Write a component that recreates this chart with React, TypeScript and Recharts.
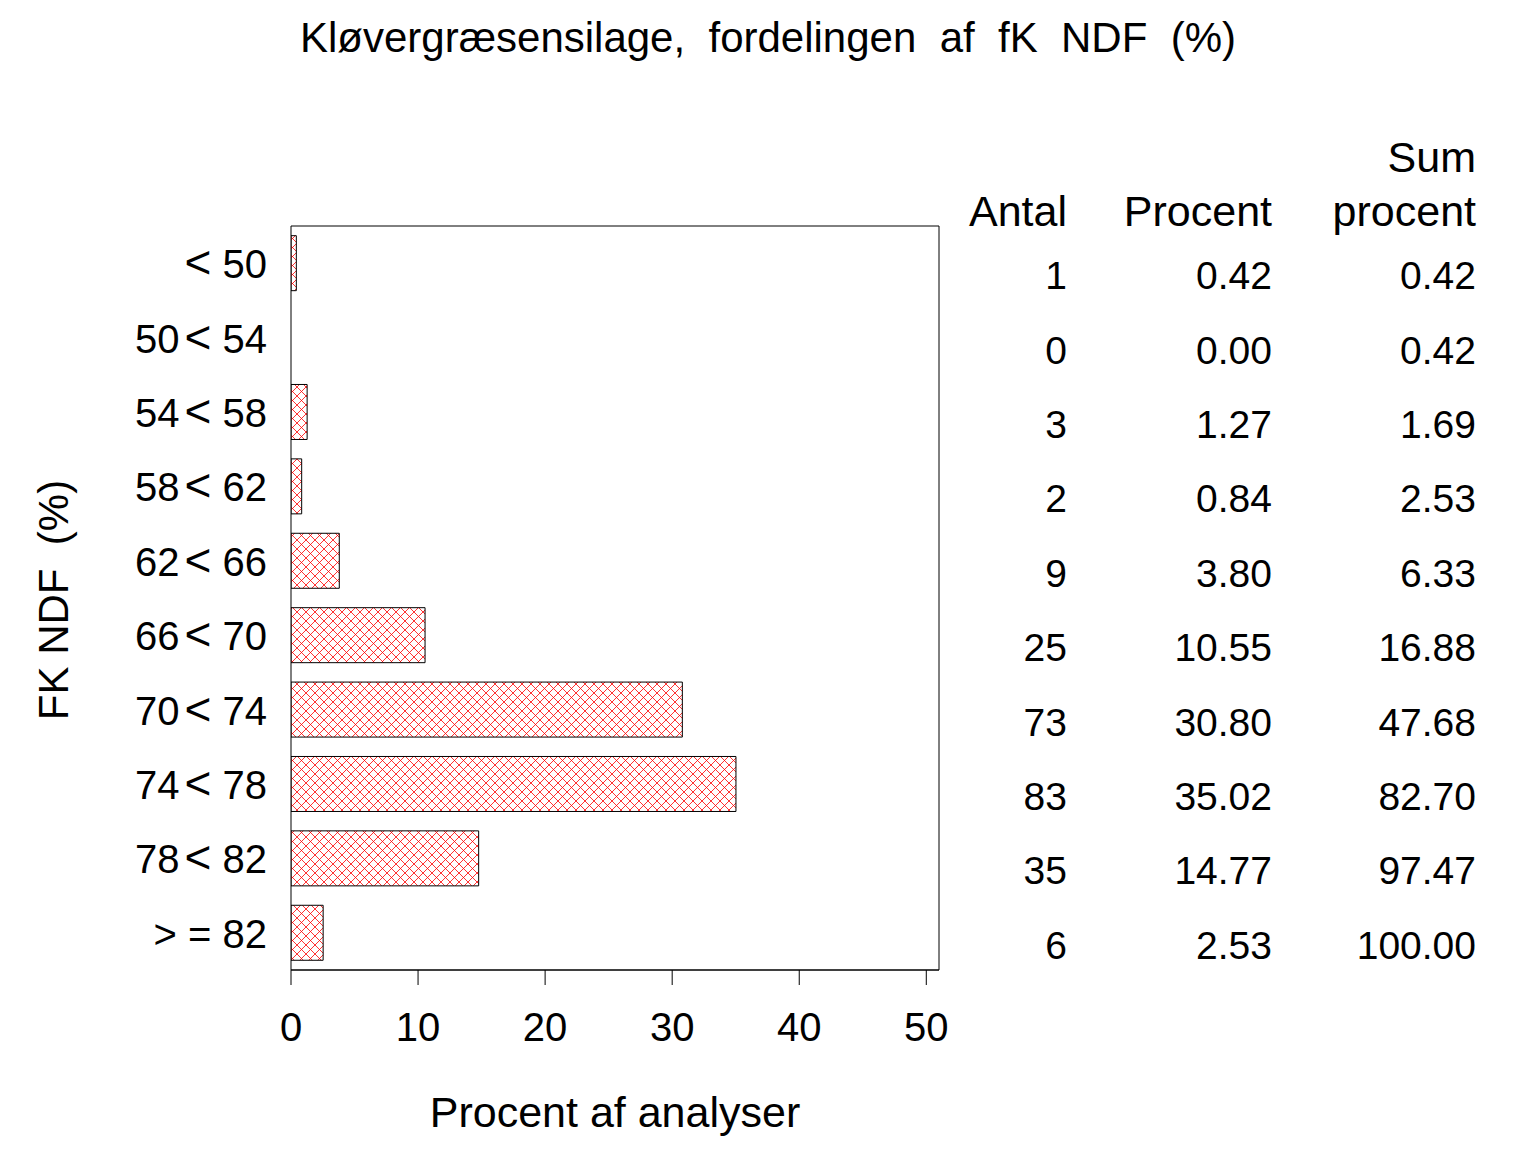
import { BarChart, Bar, XAxis, YAxis, ReferenceArea, Label } from "recharts";

const categories = ["< 50", "50< 54", "54< 58", "58< 62", "62< 66", "66< 70", "70< 74", "74< 78", "78< 82", "> = 82"];
const antal = [1, 0, 3, 2, 9, 25, 73, 83, 35, 6];
const procent = [0.42, 0.0, 1.27, 0.84, 3.8, 10.55, 30.8, 35.02, 14.77, 2.53];
const sumProcent = [0.42, 0.42, 1.69, 2.53, 6.33, 16.88, 47.68, 82.7, 97.47, 100.0];
const xTicks = [0, 10, 20, 30, 40, 50];

const data = categories.map((cat, i) => ({ cat, pct: procent[i] }));

const font = "'Liberation Sans', Arial, sans-serif";
const numFs = 39;
const wordFs = 43;

function TableTick({ x, y, payload }: any) {
  const i = categories.indexOf(payload.value);
  const base = y + 26;
  return (
    <g fontFamily={font} fill="#000">
      {i === 0 && (
        <g fontSize={wordFs}>
          <text x={x + 128} y={y - 37} textAnchor="end">Antal</text>
          <text x={x + 333} y={y - 37} textAnchor="end">Procent</text>
          <text x={x + 537} y={y - 91} textAnchor="end">Sum</text>
          <text x={x + 537} y={y - 37} textAnchor="end">procent</text>
        </g>
      )}
      <g fontSize={numFs}>
        <text x={x + 128} y={base} textAnchor="end">{antal[i]}</text>
        <text x={x + 333} y={base} textAnchor="end">{procent[i].toFixed(2)}</text>
        <text x={x + 537} y={base} textAnchor="end">{sumProcent[i].toFixed(2)}</text>
      </g>
    </g>
  );
}

// left labels: wider "<" like the original
function CatTick({ x, y, payload }: any) {
  const s: string = payload.value;
  const k = s.indexOf("<");
  const before = k >= 0 ? s.slice(0, k) : s;
  const after = k >= 0 ? s.slice(k + 1) : "";
  return (
    <text x={x} y={y} dy={15} textAnchor="end" fontFamily={font} fontSize={40} fill="#000" style={{ whiteSpace: "pre" }}>
      {k >= 0 ? (
        <>
          {before}
          <tspan dx={before ? 5 : 0} fontSize={46}>{"<"}</tspan>
          {after}
        </>
      ) : (
        s
      )}
    </text>
  );
}

export default function App() {
  return (
    <div style={{ position: "absolute", left: 0, top: 0, width: 1536, height: 1152, background: "#fff" }}>
      <svg width={0} height={0} style={{ position: "absolute" }}>
        <defs>
          <pattern id="hatch" width={9} height={9} patternUnits="userSpaceOnUse">
            <path d="M0,0 L9,9 M9,0 L0,9" stroke="#ff0000" strokeWidth={0.8} />
          </pattern>
        </defs>
      </svg>
      <svg width={1536} height={80} style={{ position: "absolute", left: 0, top: 0 }}>
        <text x={768} y={52} textAnchor="middle" fontFamily={font} fontSize={42} fill="#000" style={{ whiteSpace: "pre" }}>
          {"Kløvergræsensilage,  fordelingen  af  fK  NDF  (%)"}
        </text>
      </svg>
      <BarChart
        width={1536}
        height={1152}
        data={data}
        layout="vertical"
        margin={{ top: 226, right: 0, bottom: 0, left: 0 }}
        barCategoryGap="13%"
      >
        <XAxis
          type="number"
          domain={[0, 51]}
          ticks={xTicks}
          allowDataOverflow
          height={182}
          tickSize={15}
          tickMargin={28}
          axisLine={{ stroke: "#000" }}
          tickLine={{ stroke: "#000" }}
          tick={{ fill: "#000", fontSize: 40, fontFamily: font }}
        >
          <Label value="Procent af analyser" position="insideBottom" offset={25} fill="#000" fontSize={wordFs} fontFamily={font} />
        </XAxis>
        <YAxis
          yAxisId="left"
          type="category"
          dataKey="cat"
          width={291}
          tickSize={0}
          tickMargin={24}
          axisLine={false}
          tickLine={false}
          tick={<CatTick />}
          interval={0}
        >
          <Label
            content={() => (
              <text x={68} y={600} transform="rotate(-90 68 600)" textAnchor="middle" fontFamily={font} fontSize={42} fill="#000" style={{ whiteSpace: "pre" }}>
                {"FK NDF  (%)"}
              </text>
            )}
          />
        </YAxis>
        <YAxis
          yAxisId="right"
          orientation="right"
          type="category"
          dataKey="cat"
          width={597}
          tickSize={0}
          tickMargin={0}
          axisLine={false}
          tickLine={false}
          tick={<TableTick />}
          interval={0}
        />
        <ReferenceArea yAxisId="left" x1={0} x2={51} fill="none" stroke="#000" strokeWidth={1} fillOpacity={0} ifOverflow="visible" />
        <Bar yAxisId="left" dataKey="pct" fill="url(#hatch)" stroke="#000" strokeWidth={1} isAnimationActive={false} />
      </BarChart>
    </div>
  );
}
